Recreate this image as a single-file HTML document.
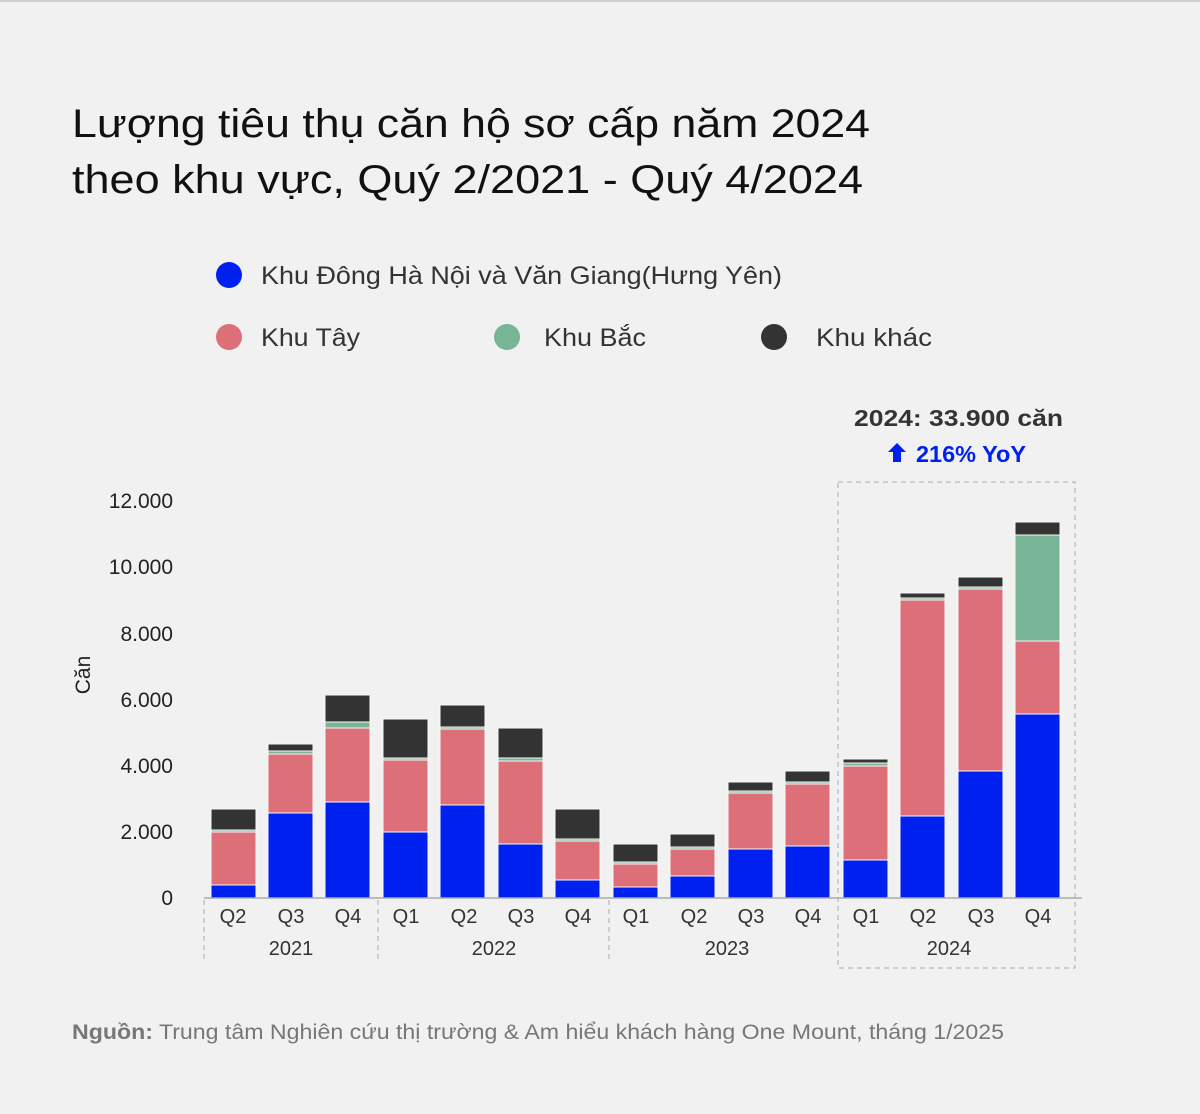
<!DOCTYPE html>
<html><head><meta charset="utf-8"><style>
body{margin:0;background:#f0f1f0;}
svg{display:block;font-family:"Liberation Sans","DejaVu Sans",sans-serif;}
</style></head><body>
<svg width="1200" height="1114" viewBox="0 0 1200 1114" xmlns="http://www.w3.org/2000/svg">
<rect width="1200" height="1114" fill="#f0f1f0"/>
<rect x="0" y="0" width="1200" height="2" fill="#d0d0d0"/>
<text x="72" y="137" font-size="40" fill="#111" textLength="798" lengthAdjust="spacingAndGlyphs">Lượng tiêu thụ căn hộ sơ cấp năm 2024</text>
<text x="72" y="193" font-size="40" fill="#111" textLength="791" lengthAdjust="spacingAndGlyphs">theo khu vực, Quý 2/2021 - Quý 4/2024</text>
<circle cx="229" cy="275" r="13" fill="#0020f0"/>
<text x="261" y="284" font-size="25" fill="#333" textLength="521" lengthAdjust="spacingAndGlyphs">Khu Đông Hà Nội và Văn Giang(Hưng Yên)</text>
<circle cx="229" cy="337" r="13" fill="#dc6f78"/>
<text x="261" y="346" font-size="25" fill="#333" textLength="99" lengthAdjust="spacingAndGlyphs">Khu Tây</text>
<circle cx="507" cy="337" r="13" fill="#78b597"/>
<text x="544" y="346" font-size="25" fill="#333" textLength="102" lengthAdjust="spacingAndGlyphs">Khu Bắc</text>
<circle cx="774" cy="337" r="13" fill="#333"/>
<text x="816" y="346" font-size="25" fill="#333" textLength="116" lengthAdjust="spacingAndGlyphs">Khu khác</text>
<text x="854" y="426" font-size="23" font-weight="bold" fill="#333" textLength="209" lengthAdjust="spacingAndGlyphs">2024: 33.900 căn</text>
<path d="M897 443 l9 9 h-5 v10 h-8 v-10 h-5 z" fill="#0020f0"/>
<text x="916" y="462" font-size="23" font-weight="bold" fill="#0020f0" textLength="110" lengthAdjust="spacingAndGlyphs">216% YoY</text>
<g font-size="21" fill="#222" text-anchor="end">
<text x="173" y="508">12.000</text><text x="173" y="574">10.000</text><text x="173" y="641">8.000</text>
<text x="173" y="707">6.000</text><text x="173" y="773">4.000</text><text x="173" y="839">2.000</text><text x="173" y="905">0</text>
</g>
<text transform="translate(90,675) rotate(-90)" font-size="21" fill="#222" text-anchor="middle">Căn</text>
<rect x="838" y="482" width="237" height="486" fill="none" stroke="#aaa" stroke-dasharray="5,4"/>
<g stroke="#f8f8f8" stroke-width="1">
<rect x="211" y="885" width="45" height="13" fill="#0020f0"/><rect x="211" y="832" width="45" height="53" fill="#dc6f78"/><rect x="211" y="830" width="45" height="2" fill="#78b597"/><rect x="211" y="809" width="45" height="21" fill="#333"/>
<rect x="268" y="813" width="45" height="85" fill="#0020f0"/><rect x="268" y="754" width="45" height="59" fill="#dc6f78"/><rect x="268" y="751" width="45" height="3" fill="#78b597"/><rect x="268" y="744" width="45" height="7" fill="#333"/>
<rect x="325" y="802" width="45" height="96" fill="#0020f0"/><rect x="325" y="728" width="45" height="74" fill="#dc6f78"/><rect x="325" y="722" width="45" height="6" fill="#78b597"/><rect x="325" y="695" width="45" height="27" fill="#333"/>
<rect x="383" y="832" width="45" height="66" fill="#0020f0"/><rect x="383" y="760" width="45" height="72" fill="#dc6f78"/><rect x="383" y="758" width="45" height="2" fill="#78b597"/><rect x="383" y="719" width="45" height="39" fill="#333"/>
<rect x="440" y="805" width="45" height="93" fill="#0020f0"/><rect x="440" y="729" width="45" height="76" fill="#dc6f78"/><rect x="440" y="727" width="45" height="2" fill="#78b597"/><rect x="440" y="705" width="45" height="22" fill="#333"/>
<rect x="498" y="844" width="45" height="54" fill="#0020f0"/><rect x="498" y="761" width="45" height="83" fill="#dc6f78"/><rect x="498" y="758" width="45" height="3" fill="#78b597"/><rect x="498" y="728" width="45" height="30" fill="#333"/>
<rect x="555" y="880" width="45" height="18" fill="#0020f0"/><rect x="555" y="841" width="45" height="39" fill="#dc6f78"/><rect x="555" y="839" width="45" height="2" fill="#78b597"/><rect x="555" y="809" width="45" height="30" fill="#333"/>
<rect x="613" y="887" width="45" height="11" fill="#0020f0"/><rect x="613" y="864" width="45" height="23" fill="#dc6f78"/><rect x="613" y="862" width="45" height="2" fill="#78b597"/><rect x="613" y="844" width="45" height="18" fill="#333"/>
<rect x="670" y="876" width="45" height="22" fill="#0020f0"/><rect x="670" y="849" width="45" height="27" fill="#dc6f78"/><rect x="670" y="847" width="45" height="2" fill="#78b597"/><rect x="670" y="834" width="45" height="13" fill="#333"/>
<rect x="728" y="849" width="45" height="49" fill="#0020f0"/><rect x="728" y="793" width="45" height="56" fill="#dc6f78"/><rect x="728" y="791" width="45" height="2" fill="#78b597"/><rect x="728" y="782" width="45" height="9" fill="#333"/>
<rect x="785" y="846" width="45" height="52" fill="#0020f0"/><rect x="785" y="784" width="45" height="62" fill="#dc6f78"/><rect x="785" y="782" width="45" height="2" fill="#78b597"/><rect x="785" y="771" width="45" height="11" fill="#333"/>
<rect x="843" y="860" width="45" height="38" fill="#0020f0"/><rect x="843" y="766" width="45" height="94" fill="#dc6f78"/><rect x="843" y="763" width="45" height="3" fill="#78b597"/><rect x="843" y="759" width="45" height="4" fill="#333"/>
<rect x="900" y="816" width="45" height="82" fill="#0020f0"/><rect x="900" y="600" width="45" height="216" fill="#dc6f78"/><rect x="900" y="598" width="45" height="2" fill="#78b597"/><rect x="900" y="593" width="45" height="5" fill="#333"/>
<rect x="958" y="771" width="45" height="127" fill="#0020f0"/><rect x="958" y="589" width="45" height="182" fill="#dc6f78"/><rect x="958" y="587" width="45" height="2" fill="#78b597"/><rect x="958" y="577" width="45" height="10" fill="#333"/>
<rect x="1015" y="714" width="45" height="184" fill="#0020f0"/><rect x="1015" y="641" width="45" height="73" fill="#dc6f78"/><rect x="1015" y="535" width="45" height="106" fill="#78b597"/><rect x="1015" y="522" width="45" height="13" fill="#333"/>
</g>
<line x1="204" y1="898" x2="1082" y2="898" stroke="#aaa" stroke-width="1.5"/>
<g stroke="#aaa" stroke-dasharray="5,4"><line x1="204" y1="900" x2="204" y2="962"/><line x1="378" y1="900" x2="378" y2="962"/><line x1="609" y1="900" x2="609" y2="962"/></g>
<g font-size="20" fill="#333" text-anchor="middle">
<text x="233" y="923">Q2</text><text x="291" y="923">Q3</text><text x="348" y="923">Q4</text><text x="406" y="923">Q1</text><text x="464" y="923">Q2</text><text x="521" y="923">Q3</text><text x="578" y="923">Q4</text><text x="636" y="923">Q1</text><text x="694" y="923">Q2</text><text x="751" y="923">Q3</text><text x="808" y="923">Q4</text><text x="866" y="923">Q1</text><text x="923" y="923">Q2</text><text x="981" y="923">Q3</text><text x="1038" y="923">Q4</text>
<text x="291" y="955">2021</text><text x="494" y="955">2022</text><text x="727" y="955">2023</text><text x="949" y="955">2024</text>
</g>
<text x="72" y="1039" font-size="21" fill="#777" textLength="932" lengthAdjust="spacingAndGlyphs"><tspan font-weight="bold">Nguồn:</tspan> Trung tâm Nghiên cứu thị trường &amp; Am hiểu khách hàng One Mount, tháng 1/2025</text>
</svg>
</body></html>
